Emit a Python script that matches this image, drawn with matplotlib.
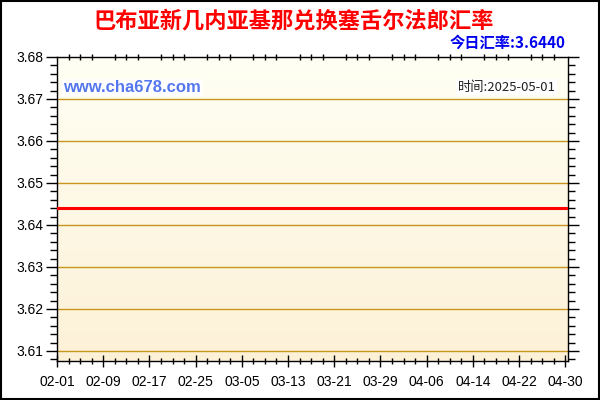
import datetime as dt
import numpy as np
import matplotlib
matplotlib.use('Agg')
import matplotlib.pyplot as plt
import matplotlib.dates as mdates
from matplotlib.patches import Rectangle
from matplotlib.ticker import MultipleLocator

plt.rcParams['font.family'] = ['Liberation Sans', 'Noto Sans CJK SC', 'DejaVu Sans']

# data
dates = ['2025-02-01', '2025-05-01']
rates = [3.644, 3.644]
tick_labels = ['02-01', '02-09', '02-17', '02-25', '03-05', '03-13',
               '03-21', '03-29', '04-06', '04-14', '04-22', '04-30']
title = '巴布亚新几内亚基那兑换塞舌尔法郎汇率'
today_rate = '今日汇率:3.6440'
date_text = '时间:2025-05-01'
site = 'www.cha678.com'

xs = [dt.datetime.strptime(d, '%Y-%m-%d') for d in dates]
ticks = [dt.datetime.strptime('2025-' + t, '%Y-%m-%d') for t in tick_labels]

fig = plt.figure(figsize=(6, 4), dpi=100)
fig.patch.set_facecolor('white')
fig.patches.append(Rectangle((0.001, 0.002), 0.997, 0.995, transform=fig.transFigure,
                             fill=False, edgecolor='black', linewidth=1.5))

ax = fig.add_axes([0.095, 0.0975, 0.852, 0.76])

x0 = mdates.date2num(ticks[0])
x1 = mdates.date2num(ticks[-1]) + 0.5
y0, y1 = 3.6076, 3.68

# background gradient
grad = np.linspace(0, 1, 256).reshape(-1, 1)
top = np.array([1.0, 1.0, 0.955])
bot = np.array([0.992, 0.945, 0.845])
img = top + (bot - top) * grad[:, :, None]
ax.imshow(img, extent=[x0, x1, y0, y1], aspect='auto', origin='upper', zorder=0)

for v in [3.61, 3.62, 3.63, 3.64, 3.65, 3.66, 3.67]:
    ax.axhline(v, color='#c8961e', linewidth=1, zorder=1)

ax.plot(mdates.date2num(xs), rates, color='#ff0000', linewidth=2.2, zorder=3)

ax.set_xlim(x0, x1)
ax.set_ylim(y0, y1)
ax.set_xticks([mdates.date2num(t) for t in ticks])
ax.set_xticklabels(tick_labels)
ax.xaxis.set_minor_locator(MultipleLocator(2))
ax.set_yticks([3.61, 3.62, 3.63, 3.64, 3.65, 3.66, 3.67, 3.68])
ax.set_yticklabels(['3.61', '3.62', '3.63', '3.64', '3.65', '3.66', '3.67', '3.68'])
ax.yaxis.set_minor_locator(MultipleLocator(0.002))

ax.tick_params(axis='x', which='major', direction='inout', length=8, width=1,
               labelsize=10, pad=6, top=False)
ax.tick_params(axis='x', which='minor', direction='inout', length=5, width=1, top=True)
ax.tick_params(axis='y', which='major', direction='out', length=8, width=1,
               labelsize=10, pad=2, right=True)
ax.tick_params(axis='y', which='minor', direction='out', length=5, width=1, right=True)
for s in ax.spines.values():
    s.set_color('black')
    s.set_linewidth(1)

fig.text(0.49, 0.948, title, ha='center', va='center', color='#ff0000',
         fontsize=16, fontweight='bold', family=['Noto Sans CJK SC', 'DejaVu Sans'])
fig.text(0.942, 0.893, today_rate, ha='right', va='center', color='#0000ee',
         fontsize=11, fontweight='bold', family=['Noto Sans CJK SC', 'DejaVu Sans'])
ax.text(0.012, 0.90, site, transform=ax.transAxes, ha='left', va='center',
        color='#5577ee', fontsize=12, fontweight='bold',
        bbox=dict(facecolor='white', edgecolor='none', pad=1))
ax.text(0.975, 0.90, date_text, transform=ax.transAxes, ha='right', va='center',
        color='#222222', fontsize=9.5, family=['Noto Sans CJK SC', 'DejaVu Sans'],
        bbox=dict(facecolor='white', edgecolor='none', pad=1))

fig.savefig('out.png', dpi=100)
